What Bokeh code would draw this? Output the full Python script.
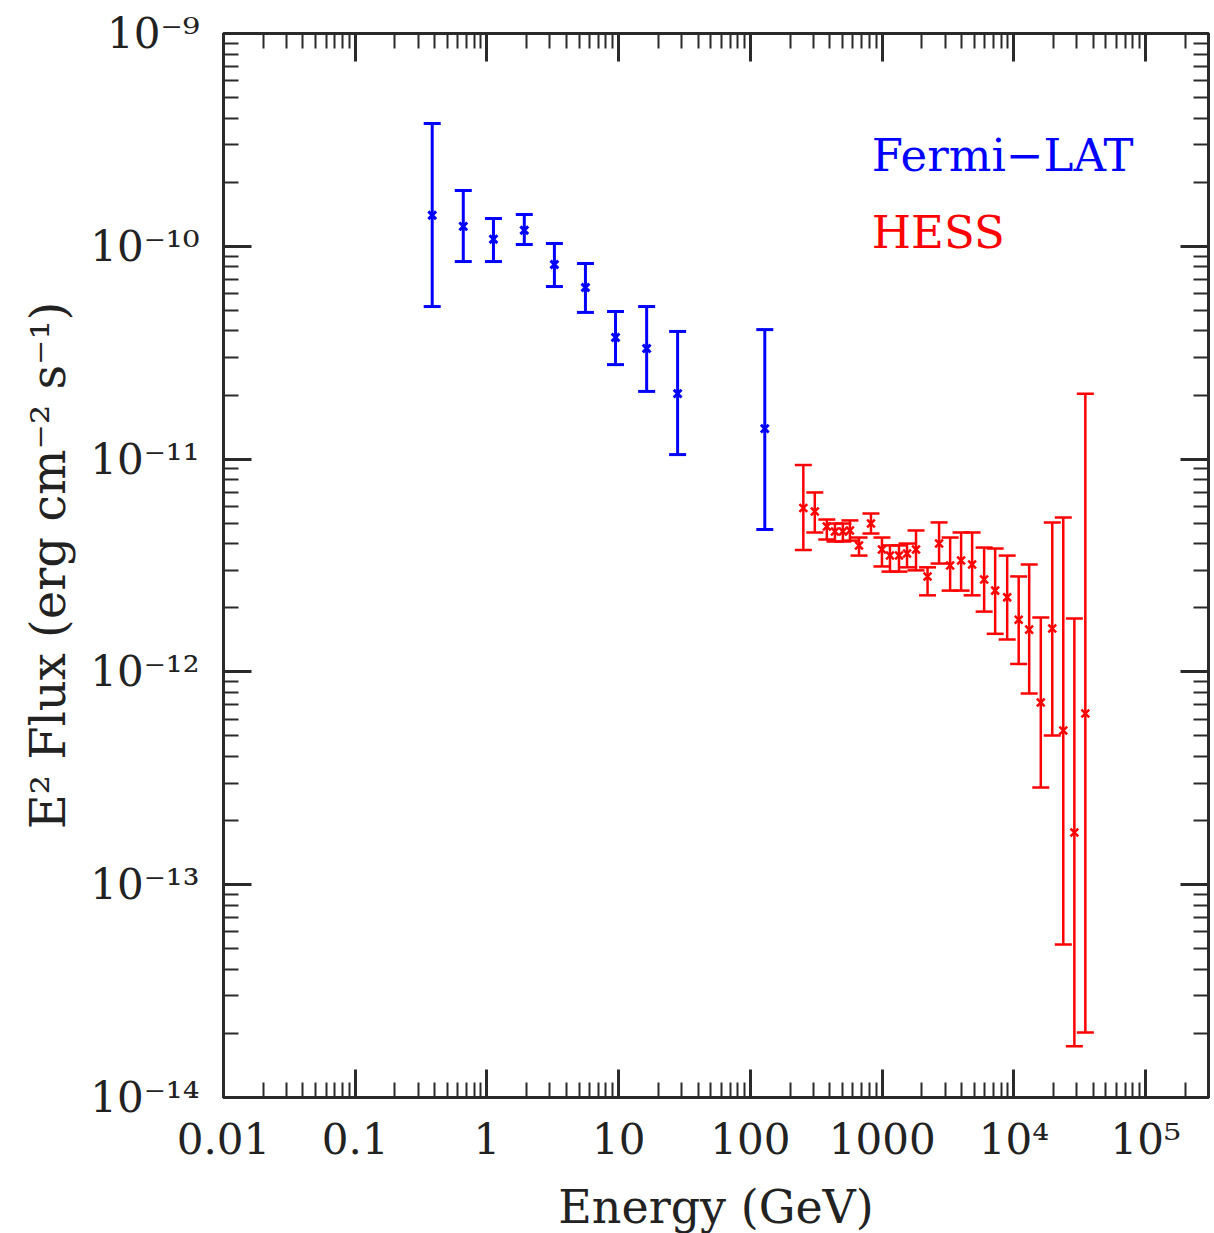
from bokeh.plotting import figure
from bokeh.models import (ColumnDataSource, Whisker, TeeHead, FixedTicker,
                          LogAxis, Label, Range1d)
from bokeh.embed import file_html
from bokeh.resources import INLINE

# ---------------- data ----------------
fermi_E = [0.384, 0.661, 1.12, 1.92, 3.25, 5.59, 9.46, 16.3, 28.0, 128.5]
fermi_F = [1.40e-10, 1.24e-10, 1.08e-10, 1.19e-10, 8.21e-11, 6.40e-11,
           3.73e-11, 3.31e-11, 2.03e-11, 1.39e-11]
fermi_hi = [3.78e-10, 1.83e-10, 1.35e-10, 1.41e-10, 1.03e-10, 8.30e-11,
            4.94e-11, 5.21e-11, 3.98e-11, 4.06e-11]
fermi_lo = [5.21e-11, 8.48e-11, 8.48e-11, 1.02e-10, 6.47e-11, 4.89e-11,
            2.78e-11, 2.08e-11, 1.05e-11, 4.67e-12]

hess_E = [252, 308, 380, 438, 503, 569, 667, 822, 996, 1146, 1342, 1544,
          1807, 2210, 2704, 3280, 3973, 4818, 5943, 7206, 8890, 10870,
          13060, 16000, 19550, 23700, 28770, 34850]
hess_F = [5.89e-12, 5.67e-12, 4.82e-12, 4.57e-12, 4.57e-12, 4.62e-12,
          3.93e-12, 4.98e-12, 3.76e-12, 3.52e-12, 3.52e-12, 3.60e-12,
          3.76e-12, 2.81e-12, 4.01e-12, 3.16e-12, 3.34e-12, 3.20e-12,
          2.72e-12, 2.41e-12, 2.24e-12, 1.76e-12, 1.58e-12, 7.18e-13,
          1.60e-12, 5.30e-13, 1.76e-13, 6.38e-13]
hess_hi = [9.38e-12, 6.97e-12, 5.20e-12, 4.98e-12, 4.98e-12, 5.15e-12,
           4.28e-12, 5.55e-12, 4.28e-12, 3.93e-12, 3.93e-12, 4.01e-12,
           4.62e-12, 3.10e-12, 5.04e-12, 4.28e-12, 4.52e-12, 4.52e-12,
           3.84e-12, 3.80e-12, 3.52e-12, 2.81e-12, 3.20e-12, 1.80e-12,
           5.04e-12, 5.32e-12, 1.78e-12, 2.03e-11]
hess_lo = [3.74e-12, 4.52e-12, 4.19e-12, 4.10e-12, 4.10e-12, 4.14e-12,
           3.52e-12, 4.47e-12, 3.13e-12, 2.96e-12, 2.96e-12, 3.10e-12,
           3.00e-12, 2.29e-12, 3.23e-12, 2.41e-12, 2.41e-12, 2.29e-12,
           1.92e-12, 1.51e-12, 1.42e-12, 1.09e-12, 7.91e-13, 2.86e-13,
           5.02e-13, 5.23e-14, 1.74e-14, 2.02e-14]

x_ticks = [0.01, 0.1, 1, 10, 100, 1000, 1e4, 1e5]
x_tick_labels = ["0.01", "0.1", "1", "10", "100", "1000", "10\u2074", "10\u2075"]
y_ticks = [1e-14, 1e-13, 1e-12, 1e-11, 1e-10, 1e-9]
y_tick_labels = ["10\u207b\u00b9\u2074", "10\u207b\u00b9\u00b3", "10\u207b\u00b9\u00b2",
                 "10\u207b\u00b9\u00b9", "10\u207b\u00b9\u2070", "10\u207b\u2079"]

FONT = "DejaVu Serif"
AX = "#2a2a2a"

p = figure(x_axis_type="log", y_axis_type="log",
           x_range=Range1d(0.01, 3e5), y_range=Range1d(1e-14, 1e-9),
           frame_width=985, frame_height=1064,
           min_border_left=223, min_border_right=4,
           min_border_top=33, min_border_bottom=128,
           output_backend="svg", toolbar_location=None,
           background_fill_color="white", border_fill_color="white",
           outline_line_color=AX, outline_line_width=3)
p.grid.visible = False

x_minor = [m * 10.0 ** k for k in range(-2, 6) for m in range(2, 10)]
y_minor = [m * 10.0 ** k for k in range(-14, -9) for m in range(2, 10)]
xt = FixedTicker(ticks=x_ticks, minor_ticks=x_minor)
yt = FixedTicker(ticks=y_ticks, minor_ticks=y_minor)


def style(ax, labels=True):
    ax.major_tick_in = 28
    ax.major_tick_out = 0
    ax.minor_tick_in = 15
    ax.minor_tick_out = 0
    ax.axis_line_color = AX
    ax.axis_line_width = 3
    ax.major_tick_line_color = AX
    ax.major_tick_line_width = 3
    ax.minor_tick_line_color = AX
    ax.minor_tick_line_width = 2
    if labels:
        ax.major_label_text_font = FONT
        ax.major_label_text_font_size = "42px"
        ax.major_label_text_color = "#222222"
        ax.axis_label_text_font = FONT
        ax.axis_label_text_font_style = "normal"
        ax.axis_label_text_color = "#222222"
    else:
        ax.major_label_text_font_size = "1px"
        ax.major_label_text_alpha = 0
        ax.major_label_standoff = 0


xa = p.xaxis[0]
xa.ticker = xt
xa.major_label_overrides = dict(zip(x_ticks, x_tick_labels))
style(xa)
xa.axis_label = "Energy (GeV)"
xa.axis_label_text_font_size = "46px"
xa.major_label_standoff = 17
xa.axis_label_standoff = 13

ya = p.yaxis[0]
ya.ticker = yt
ya.major_label_overrides = dict(zip(y_ticks, y_tick_labels))
style(ya)
ya.axis_label = "E\u00b2 Flux (erg cm\u207b\u00b2 s\u207b\u00b9)"
ya.axis_label_text_font_size = "48px"
ya.major_label_standoff = 24
ya.axis_label_standoff = 11

top = LogAxis(ticker=xt)
style(top, labels=False)
p.add_layout(top, "above")
right = LogAxis(ticker=yt)
style(right, labels=False)
p.add_layout(right, "right")

# ---------------- data glyphs ----------------
fsrc = ColumnDataSource(dict(x=fermi_E, y=fermi_F, hi=fermi_hi, lo=fermi_lo))
hsrc = ColumnDataSource(dict(x=hess_E, y=hess_F, hi=hess_hi, lo=hess_lo))

for src, col, lw in ((fsrc, "#0000ff", 3), (hsrc, "#ff0000", 2.5)):
    w = Whisker(source=src, base="x", upper="hi", lower="lo",
                line_color=col, line_width=lw,
                upper_head=TeeHead(size=17, line_color=col, line_width=lw),
                lower_head=TeeHead(size=17, line_color=col, line_width=lw))
    p.add_layout(w)
    p.scatter("x", "y", source=src, marker="x", size=11,
              line_color=col, line_width=lw)

p.add_layout(Label(x=835, y=2.67e-10, text="Fermi\u2212LAT", text_color="#0000ff",
                   text_font=FONT, text_font_size="45px", text_baseline="middle"))
p.add_layout(Label(x=835, y=1.16e-10, text="HESS", text_color="#ff0000",
                   text_font=FONT, text_font_size="45px", text_baseline="middle"))

open("out.html", "w").write(file_html(p, INLINE))
